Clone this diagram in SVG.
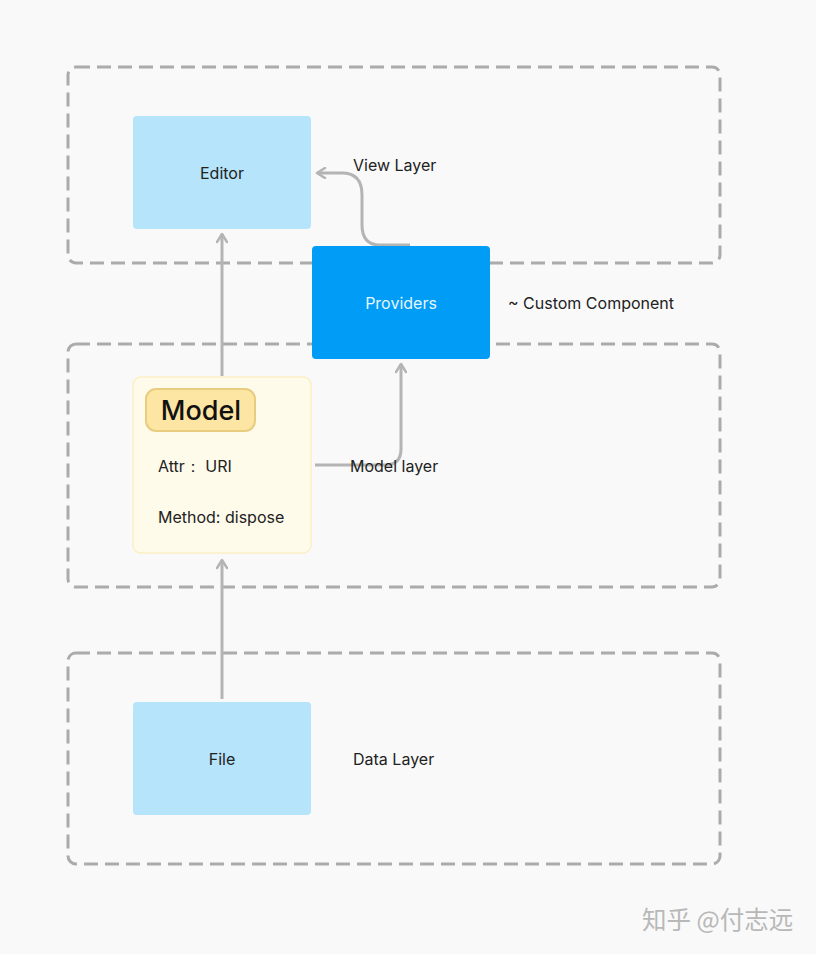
<svg xmlns="http://www.w3.org/2000/svg" width="816" height="954" viewBox="0 0 816 954">
<style>
.layer{fill:none;stroke:#ababab;stroke-width:3;stroke-dasharray:14 7}
.t{font-family:Inter,"Liberation Sans",sans-serif;font-size:16px;fill:#222}
.c{text-anchor:middle}
.conn{fill:none;stroke:#b4b4b4;stroke-width:3}
</style>
<defs>
<marker id="arr" viewBox="0 0 12 12" refX="10" refY="6" markerWidth="12" markerHeight="12" markerUnits="userSpaceOnUse" orient="auto">
<path d="M2 1 L10 6 L2 11" fill="none" stroke="#b4b4b4" stroke-width="2.5" stroke-linecap="round" stroke-linejoin="round"/>
</marker>
</defs>
<rect width="816" height="954" fill="#f9f9f9"/>
<g id="layers">
<rect class="layer" x="68" y="67" width="652" height="196" rx="8"/>
<rect class="layer" x="68" y="344" width="652" height="243" rx="8"/>
<rect class="layer" x="68" y="653" width="652" height="211" rx="8"/>
</g>
<g id="connectors">
<path class="conn" d="M222 376 V234" marker-end="url(#arr)"/>
<path class="conn" d="M222 699 V560" marker-end="url(#arr)"/>
<path class="conn" d="M315 465 H385 Q401 465 401 449 V364" marker-end="url(#arr)"/>
<path class="conn" d="M410 245 H380 Q362 245 362 225 V195 Q362 173 342 173 H317" marker-end="url(#arr)"/>
</g>
<g id="editor">
<rect x="133" y="116" width="178" height="113" rx="4" fill="#b5e4fb"/>
<text class="t c" x="222" y="179">Editor</text>
</g>
<g id="providers">
<rect x="312" y="246" width="178" height="113" rx="4" fill="#009cf5"/>
<text class="t c" x="401" y="309" style="fill:#e6f6ff">Providers</text>
</g>
<g id="model">
<rect x="133" y="377" width="178" height="176" rx="8" fill="#fffbeb" stroke="#fbefc4" stroke-width="1.5"/>
<rect x="146" y="389" width="109" height="42" rx="10" fill="#fde5a3" stroke="#e8cd80" stroke-width="2"/>
<text x="201" y="420" text-anchor="middle" style="font-family:Inter,'Liberation Sans',sans-serif;font-size:27px;font-weight:500;fill:#111">Model</text>
<text class="t" x="158" y="472">Attr： URI</text>
<text class="t" x="158" y="523">Method: dispose</text>
</g>
<g id="file">
<rect x="133" y="702" width="178" height="113" rx="4" fill="#b5e4fb"/>
<text class="t c" x="222" y="765">File</text>
</g>
<g id="labels">
<text class="t" x="353" y="171">View Layer</text>
<text class="t" x="508" y="309">~ Custom Component</text>
<text class="t" x="350" y="472">Model layer</text>
<text class="t" x="353" y="765">Data Layer</text>
</g>
<text x="642" y="929" style="font-family:'Noto Sans CJK SC',sans-serif;font-size:24.5px;fill:#b8b8b8">知乎 @付志远</text>
</svg>
